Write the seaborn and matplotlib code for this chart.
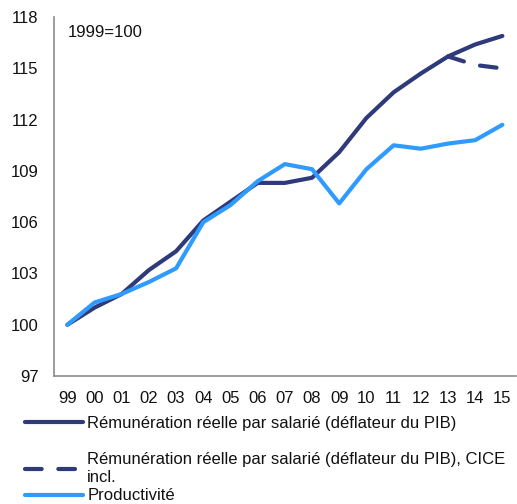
import seaborn as sns
import matplotlib.pyplot as plt
import pandas as pd

years = ['99', '00', '01', '02', '03', '04', '05', '06', '07', '08',
         '09', '10', '11', '12', '13', '14', '15']
remuneration = [100.0, 101.0, 101.8, 103.2, 104.3, 106.1, 107.2, 108.3, 108.3, 108.6,
                110.1, 112.1, 113.6, 114.7, 115.7, 116.4, 116.9]
cice_years = ['13', '14', '15']
remuneration_cice = [115.7, 115.2, 115.0]
productivite = [100.0, 101.3, 101.8, 102.5, 103.3, 106.0, 107.0, 108.4, 109.4, 109.1,
                107.1, 109.1, 110.5, 110.3, 110.6, 110.8, 111.7]

lab_rem = 'Rémunération réelle par salarié (déflateur du PIB)'
lab_cice = 'Rémunération réelle par salarié (déflateur du PIB), CICE\nincl.'
lab_prod = 'Productivité'

dark = '#2e3a7a'
light = '#2f9bff'

df = pd.DataFrame({'pos': range(len(years)), 'rem': remuneration, 'prod': productivite})
df_cice = pd.DataFrame({'pos': [years.index(y) for y in cice_years], 'val': remuneration_cice})

sns.set_style('white')
plt.rcParams['font.family'] = ['Liberation Sans', 'DejaVu Sans']
fs = 12

fig = plt.figure(figsize=(5.17, 5.04), dpi=100)
ax = fig.add_axes([0.104, 0.254, 0.894, 0.712])

sns.lineplot(data=df, x='pos', y='rem', color=dark, lw=3, ax=ax, label=lab_rem)
sns.lineplot(data=df_cice, x='pos', y='val', color=dark, lw=3, ax=ax, label=lab_cice)
ax.lines[-1].set_dashes([4, 4])
ax.lines[-1].set_dash_capstyle('round')
sns.lineplot(data=df, x='pos', y='prod', color=light, lw=3, ax=ax, label=lab_prod)
for ln in ax.lines:
    ln.set_solid_capstyle('round')

ax.set_xlim(-0.5, len(years) - 0.5)
ax.set_ylim(97, 118)
ax.set_yticks(range(97, 119, 3))
ax.set_xticks(range(len(years)))
ax.set_xticklabels(years)
ax.set_xlabel('')
ax.set_ylabel('')
ax.tick_params(axis='both', length=0, labelsize=fs, colors='#111111')
ax.tick_params(axis='y', pad=11)
ax.tick_params(axis='x', pad=11)

sns.despine(ax=ax)
for s in ['left', 'bottom']:
    ax.spines[s].set_color('#8c8c8c')
    ax.spines[s].set_linewidth(1.2)

ax.text(0.03, 0.958, '1999=100', transform=ax.transAxes, fontsize=fs,
        ha='left', va='center', color='#111111')

handles, labels = ax.get_legend_handles_labels()
ax.get_legend().remove()
# one legend per entry so the rows sit where they do in the original
rows_y = [0.1607, 0.0704, 0.0159]
for h, l, yy in zip(handles, labels, rows_y):
    leg = fig.legend([h], [l], loc='center left', bbox_to_anchor=(0.048, yy),
                     frameon=False, fontsize=fs, handlelength=3.5, handletextpad=0.24,
                     borderpad=0, borderaxespad=0)
    for t in leg.get_texts():
        t.set_color('#111111')

fig.savefig('out.png', dpi=100)
